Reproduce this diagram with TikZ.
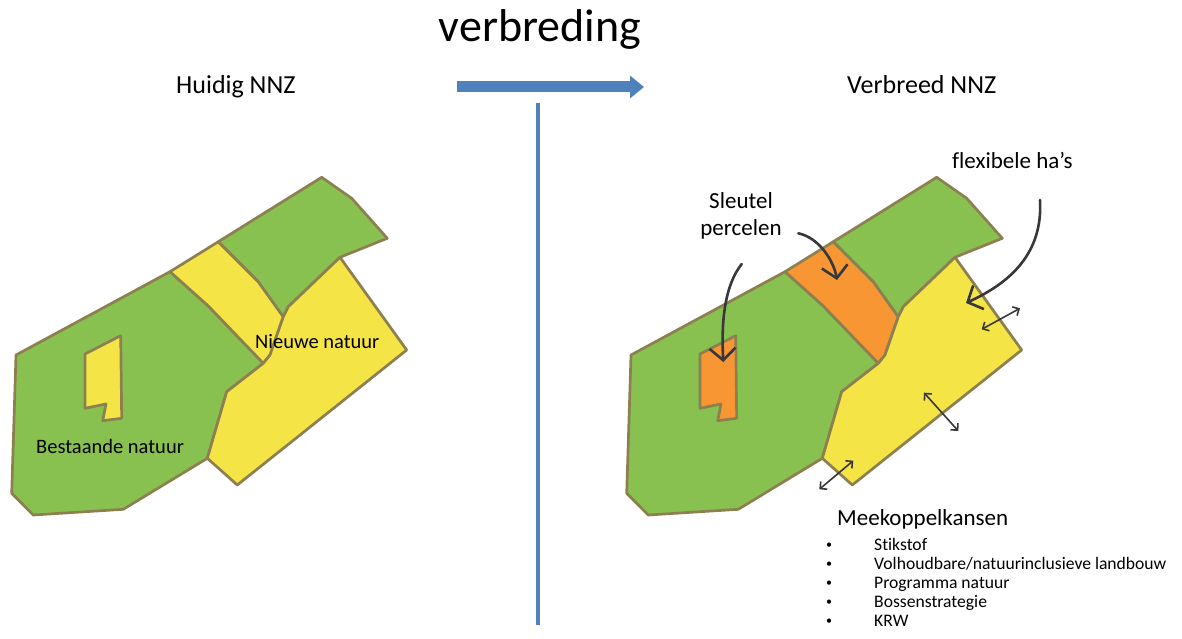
\documentclass[tikz,border=0pt]{standalone}
\usepackage{fontspec}
\setmainfont{Carlito}[Ligatures=NoCommon]
\usetikzlibrary{arrows.meta}
\definecolor{mapgreen}{RGB}{137,193,80}
\definecolor{mapyellow}{RGB}{245,228,70}
\definecolor{maporange}{RGB}{247,150,50}
\definecolor{mapborder}{RGB}{140,128,80}
\definecolor{divblue}{RGB}{79,129,189}
\definecolor{arrowgray}{RGB}{55,55,60}
\tikzset{
  region/.style={draw=mapborder, line width=2.7pt, line join=round},
  curvearrow/.style={draw=arrowgray, line width=2.6pt, line cap=round, -{Straight Barb[length=12pt,width=26pt,line width=2.6pt]}},
  dblarrow/.style={draw=arrowgray, line width=1.6pt, {Straight Barb[length=5pt,width=10pt,line width=1.6pt]}-{Straight Barb[length=5pt,width=10pt,line width=1.6pt]}},
  lbl/.style={inner sep=0pt, anchor=base west, text=black},
  bigtitle/.style={inner sep=0pt, anchor=base, font=\fontsize{46}{50}\selectfont},
  header/.style={lbl, font=\fontsize{26}{30}\selectfont},
  maplbl/.style={lbl, font=\fontsize{20.5}{24}\selectfont},
  notelbl/.style={lbl, font=\fontsize{23}{27}\selectfont},
  itemlbl/.style={lbl, font=\fontsize{17.6}{20}\selectfont},
  bulletlbl/.style={inner sep=0pt, anchor=base, font=\fontsize{12}{14}\selectfont},
}
\newcommand\nnzmap[2]{%
  % left green
  \path[region, fill=mapgreen] (16,355) -- (170,271.7) -- (208.3,306) -- (263.3,363.3) -- (226.7,391.7) -- (207.3,458.3) -- (123.3,509.3) -- (33.3,515) -- (11.7,493.3) -- cycle;
  % strip
  \path[region, fill=#1] (170,271.7) -- (218.3,241.7) -- (258.3,281.7) -- (283.3,316.7) -- (270,355) -- (263.3,363.3) -- (208.3,306) -- cycle;
  % top green
  \path[region, fill=mapgreen] (218.3,241.7) -- (321.7,177.3) -- (351.7,198.3) -- (387.3,238.3) -- (340,257.3) -- (288.3,306.7) -- (283.3,316.7) -- (258.3,281.7) -- cycle;
  % right yellow
  \path[region, fill=mapyellow] (340,257.3) -- (406.7,350) -- (237.3,485) -- (207.3,458.3) -- (226.7,391.7) -- (263.3,363.3) -- (270,355) -- (283.3,316.7) -- (288.3,306.7) -- cycle;
  % small parcel
  \path[region, fill=#2] (85,354) -- (120.7,335.7) -- (121.7,418.3) -- (102.7,420.7) -- (106,404) -- (85,408.3) -- cycle;
}
\begin{document}
\begin{tikzpicture}[x=1pt, y=-1pt]
\useasboundingbox (0,0) rectangle (1182,639);
% titles
\node[bigtitle] (title) at (540,42) {verbreding};
\node[header] (huidig) at (176,94) {Huidig NNZ};
\node[header] (verbreed) at (847,94) {Verbreed NNZ};
% divider arrow and line
\coordinate (arrs) at (457,87);
\coordinate (arre) at (644,87);
\draw[divblue, line width=11pt, -{Triangle[length=14pt,width=22pt]}] (arrs) -- (arre);
\coordinate (divtop) at (538,103);
\coordinate (divbot) at (538,625);
\draw[divblue, line width=4pt] (divtop) -- (divbot);
% left map
\nnzmap{mapyellow}{mapyellow}
% right map
\begin{scope}[xshift=615pt]
\nnzmap{maporange}{maporange}
\end{scope}
% left labels
\node[maplbl] (nieuwe) at (255,348) {Nieuwe natuur};
\node[maplbl] (bestaande) at (36,453) {Bestaande natuur};
% right labels
\node[notelbl, anchor=base] (sleutel) at (741,208) {Sleutel};
\node[notelbl, anchor=base] (percelen) at (741,235) {percelen};
\node[notelbl] (flex) at (952,168) {flexibele ha’s};
% curved arrows
\coordinate (s1a) at (741.7,264);
\coordinate (s1b) at (723.3,362);
\draw[curvearrow] (s1a) .. controls (725,285) and (721,320) .. (s1b);
\coordinate (s2a) at (798.3,233.3);
\coordinate (s2b) at (837,280);
\draw[curvearrow] (s2a) .. controls (820,238) and (834,262) .. (s2b);
\coordinate (f1a) at (1040,200);
\coordinate (f1b) at (966,303);
\draw[curvearrow] (f1a) .. controls (1043,252) and (1012,282) .. (f1b);
% double arrows
\coordinate (d1a) at (981.7,329.3);
\coordinate (d1b) at (1020,308.3);
\draw[dblarrow] (d1a) -- (d1b);
\coordinate (d2a) at (924,392.7);
\coordinate (d2b) at (958.3,431);
\draw[dblarrow] (d2a) -- (d2b);
\coordinate (d3a) at (819.3,489.3);
\coordinate (d3b) at (853.3,460.7);
\draw[dblarrow] (d3a) -- (d3b);
% Meekoppelkansen list
\node[notelbl] (mee) at (837,525) {Meekoppelkansen};
\foreach \t [count=\i] in {Stikstof, Volhoudbare/natuurinclusieve landbouw, Programma natuur, Bossenstrategie, KRW} {
  \node[bulletlbl] (b\i) at (829,529+19*\i) {•};
  \node[itemlbl] (it\i) at (874,531+19*\i) {\t};
}
\end{tikzpicture}
\end{document}
